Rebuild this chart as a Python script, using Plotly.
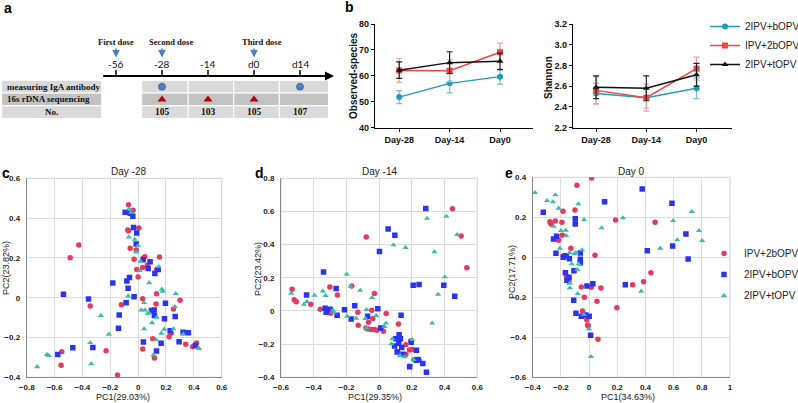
import plotly.graph_objects as go

W, H = 798, 403
def fx(p):
    return p / W
def fy(p):
    return 1 - p / H

# ---------------- panel a data ----------------
timepoints = ["-56", "-28", "-14", "d0", "d14"]
dose_labels = ["First dose", "Second dose", "Third dose"]
dose_timepoints = ["-56", "-28", "d0"]
table_rows = ["measuring IgA antibody", "16s rDNA sequencing", "No."]
iga_timepoints = ["-28", "d14"]
seq_timepoints = ["-28", "-14", "d0"]
sample_timepoints = ["-28", "-14", "d0", "d14"]
sample_counts = [105, 103, 105, 107]

# ---------------- panel b data ----------------
days = ["Day-28", "Day-14", "Day0"]
b_groups = ["2IPV+bOPV", "IPV+2bOPV", "2IPV+tOPV"]
obs_bopv = [51.8, 57.1, 59.7]
obs_bopv_err = [2.5, 3.7, 2.9]
obs_ipv2b = [62.1, 62.0, 69.1]
obs_ipv2b_err = [4.5, 4.2, 3.5]
obs_topv = [62.2, 65.1, 65.6]
obs_topv_err = [3.2, 4.2, 3.2]
sha_bopv = [2.53, 2.49, 2.58]
sha_bopv_err = [0.10, 0.10, 0.10]
sha_ipv2b = [2.56, 2.49, 2.77]
sha_ipv2b_err = [0.13, 0.13, 0.11]
sha_topv = [2.59, 2.58, 2.71]
sha_topv_err = [0.11, 0.12, 0.11]

# ---------------- PCoA data ----------------
c_ipv2b_x = [-0.069,-0.036,-0.074,-0.069,0.005,-0.057,-0.014,0.048,-0.029,0.038,-0.01,0.033,0.067,0.153,0,0.132,-0.426,-0.488,-0.344,-0.12,0.033,0.132,0.129,0.301,0.254,0.105,0.117,0.033,0.222,0.237,0.342,0.392,0.419,-0.23,-0.548,-0.553,-0.148]
c_ipv2b_y = [0.467,0.44,0.34,0.337,0.35,0.248,0.24,0.206,0.193,0.2,0.142,0.152,0.164,0.204,0.104,0.14,0.265,0.201,-0.042,-0.035,-0.005,0.02,-0.032,-0.013,-0.057,-0.206,-0.303,-0.258,-0.196,-0.179,-0.234,-0.246,-0.228,-0.266,-0.271,-0.34,-0.389]
c_bopv_x = [-0.093,-0.057,-0.038,-0.033,-0.01,-0.014,0.036,0.086,0.072,0.144,-0.062,-0.081,-0.182,-0.072,-0.029,-0.086,-0.136,-0.141,-0.536,-0.356,0.12,0.196,0.115,0.096,0.117,0.189,0.266,0.23,0.165,0.038,0.132,0.294,0.323,0.361,0.411,-0.325,-0.469,-0.577]
c_bopv_y = [0.429,0.424,0.409,0.353,0.325,0.27,0.191,0.181,0.147,0.142,0.102,0.084,0.074,0.047,0.005,-0.025,-0.087,-0.154,0.017,-0.007,0.122,-0.028,-0.062,-0.064,-0.089,-0.106,-0.094,-0.166,-0.229,-0.223,-0.268,-0.221,-0.174,-0.176,-0.24,-0.25,-0.251,-0.285]
c_topv_x = [-0.065,-0.05,-0.067,-0.024,-0.002,-0.014,0.017,0.012,0.079,0.148,0.17,0.177,0.27,-0.072,0.043,0.022,0.05,0.069,0.079,0.1,0.134,0.263,0.043,0.187,0.167,0.254,0.323,0.438,0.433,0.127,0.11,-0.268,-0.211,-0.344,-0.337,-0.655,-0.641,-0.725]
c_topv_y = [0.446,0.429,0.305,0.293,0.26,0.229,0.183,0.136,0.075,0.156,0.042,0.032,0.02,0.008,-0.025,-0.062,-0.062,-0.079,-0.077,-0.126,-0.099,-0.045,-0.157,-0.159,-0.179,-0.157,-0.184,-0.256,-0.253,-0.211,-0.288,-0.09,-0.184,-0.226,-0.332,-0.286,-0.291,-0.347]

d_ipv2b_x = [0.448,0.501,0.536,-0.079,-0.167,-0.029,-0.255,-0.301,-0.532,-0.519,-0.507,-0.418,-0.36,-0.297,-0.13,-0.128,-0.045,-0.039,-0.065,-0.081,-0.067,-0.047,-0.029,-0.014,0.026,0.043,0.118,0.163,0.163,0.193,0.185,0.202,0.112,0.185,0.244,0.214]
d_ipv2b_y = [0.616,0.452,0.261,0.446,0.151,0.106,0.096,0.145,0.131,0.068,0.056,0.04,0.01,-0.014,-0.008,-0.086,0.004,-0.046,-0.068,-0.102,-0.108,-0.112,-0.112,-0.116,-0.122,-0.016,-0.078,-0.203,-0.263,-0.181,-0.235,-0.233,-0.245,-0.333,-0.297,-0.293]
d_bopv_x = [0.285,0.055,0.096,0.002,-0.34,0.208,0.244,0.395,0.462,-0.444,-0.263,-0.33,-0.299,-0.324,-0.257,-0.212,-0.149,-0.171,-0.008,-0.071,0.01,0.134,0.122,0.13,0.102,0.094,0.12,0.138,0.11,0.145,0.196,0.228,0.228,0.238,0.267,0.289,0.187]
d_bopv_y = [0.618,0.494,0.456,0.359,0.235,0.155,0.159,0.155,0.088,0.096,0.135,0.016,0.01,-0.008,-0.026,0.008,0.032,-0.048,0.014,-0.032,-0.102,-0.026,-0.143,-0.167,-0.167,-0.211,-0.195,-0.221,-0.247,-0.261,-0.189,-0.237,-0.297,-0.293,-0.317,-0.369,-0.337]
d_topv_x = [0.293,0.411,0.477,0.088,0.161,0.338,0.401,0.36,0.324,-0.198,-0.175,-0.116,-0.344,-0.328,-0.395,-0.442,-0.46,-0.538,-0.283,-0.275,-0.196,-0.141,-0.077,-0.084,-0.043,-0.018,0.041,0.033,0.081,0.075,0.128,0.155,0.202,0.21,-0.077]
d_topv_y = [0.558,0.57,0.46,0.398,0.382,0.357,0.205,0.1,-0.074,0.221,0.149,0.124,0.12,0.092,0.094,0.056,0.04,0.106,0.004,-0.008,-0.032,-0.044,0.008,-0.046,0.08,-0.028,-0.074,-0.094,-0.169,-0.199,-0.269,-0.277,-0.173,-0.293,-0.102]

e_ipv2b_x = [0.018,-0.086,-0.1,-0.185,-0.278,-0.27,-0.24,-0.192,-0.19,-0.216,-0.129,-0.183,-0.16,-0.143,0.042,0.188,0.469,0.439,0.387,0.309,0.084,-0.055,0.016,-0.034,0.056,0.197,-0.046,-0.017,-0.01,-0.006,0.063]
e_ipv2b_y = [0.397,0.36,0.237,0.23,0.178,0.167,0.182,0.175,0.11,0.085,0.045,0.008,-0.095,-0.12,0.01,0.187,0.175,-0.077,-0.122,-0.137,-0.153,-0.148,-0.15,-0.2,-0.22,-0.252,-0.268,-0.312,-0.338,-0.343,-0.41]
e_bopv_x = [-0.325,0.377,0.11,0.588,-0.098,-0.098,-0.23,-0.252,-0.235,-0.183,-0.162,-0.14,-0.062,-0.062,-0.062,0.413,0.593,0.687,0.703,-0.107,-0.168,-0.142,-0.157,0.027,-0.015,0.257,-0.109,-0.093,-0.055,-0.024,0.001,0.011]
e_bopv_y = [0.225,0.342,0.278,0.27,0.193,0.167,0.105,0.092,0.02,0,0.008,-0.007,0.022,-0.01,-0.027,0.033,0.057,0.117,-0.008,-0.067,-0.077,-0.1,-0.115,-0.132,-0.143,-0.137,-0.215,-0.28,-0.295,-0.288,-0.295,-0.39]
e_topv_x = [-0.384,-0.299,-0.256,-0.239,-0.216,-0.076,-0.036,0.24,0.597,0.729,0.781,0.802,0.626,0.505,-0.2,-0.252,-0.166,-0.163,-0.207,-0.138,-0.093,-0.049,-0.074,-0.123,-0.083,-0.138,-0.136,-0.081,0.089,0.37,-0.036,0,0.013,-0.105]
e_topv_y = [0.323,0.283,0.277,0.312,0.245,0.267,0.188,0.197,0.183,0.228,0.133,0.083,0.087,0.045,0.133,0.155,0.135,0.108,0.045,0.023,0.023,0.037,-0.033,-0.033,-0.062,-0.13,-0.153,-0.182,0.147,-0.17,-0.287,-0.358,-0.497,0.017]

pc_groups = ["IPV+2bOPV", "2IPV+bOPV", "2IPV+tOPV"]
pc_titles = ["Day -28", "Day -14", "Day 0"]
pc1_labels = ["PC1(29.03%)", "PC1(29.35%)", "PC1(34.63%)"]
pc2_labels = ["PC2(23.82%)", "PC2(23.42%)", "PC2(17.71%)"]

# ---------------- styles ----------------
SANS = "Liberation Sans, Arial, sans-serif"
SERIF = "Liberation Serif, DejaVu Serif, serif"
TEAL_B, RED_B, BLACK_B = "#1f9db5", "#f04545", "#111111"
RED_P, BLUE_P, TEAL_P = "#e63a5c", "#2a33f2", "#3dbcad"

fig = go.Figure()

# ================= panel a =================
idx = {t: i for i, t in enumerate(timepoints)}
ROW_PX = 12.75
def ay6(p):  # pixel row -> y6 units
    return (p - 86.7) / ROW_PX
def ax6(p):
    return (p - 116) / 46.0

fig.add_trace(go.Scatter(
    x=[idx[t] for t in iga_timepoints], y=[0] * len(iga_timepoints),
    xaxis="x6", yaxis="y6", mode="markers", showlegend=False, hoverinfo="skip",
    marker=dict(symbol="circle", size=7, color="#4f81bd", line=dict(color="#385d8a", width=0.8))))
fig.add_trace(go.Scatter(
    x=[idx[t] for t in seq_timepoints], y=[1] * len(seq_timepoints),
    xaxis="x6", yaxis="y6", mode="markers", showlegend=False, hoverinfo="skip",
    marker=dict(symbol="triangle-up", size=8, color="#b00000")))
fig.add_trace(go.Scatter(
    x=[idx[t] for t in sample_timepoints], y=[2] * len(sample_timepoints),
    xaxis="x6", yaxis="y6", mode="text", showlegend=False, hoverinfo="skip",
    text=[str(n) for n in sample_counts],
    textfont=dict(family=SERIF, size=9.5, color="#111", weight="bold")))

shapes = []
annotations = []
row_cols = ["#d9d9d9", "#c3c3c3", "#dadada"]
col_edges = [0.56, 1.57, 2.56, 3.55, 4.62]
for r in range(3):
    shapes.append(dict(type="rect", xref="x6", yref="y6", x0=ax6(1.7), x1=ax6(101.7),
                       y0=r - 0.5, y1=r + 0.5, fillcolor=row_cols[r],
                       line=dict(color="white", width=1), layer="below"))
    for c in range(4):
        shapes.append(dict(type="rect", xref="x6", yref="y6", x0=col_edges[c], x1=col_edges[c + 1],
                           y0=r - 0.5, y1=r + 0.5, fillcolor=row_cols[r],
                           line=dict(color="white", width=1), layer="below"))
for r, lab in enumerate(table_rows):
    if lab == "No.":
        annotations.append(dict(xref="x6", yref="y6", x=(ax6(1.7) + ax6(101.7)) / 2, y=r,
                                text="<b>%s</b>" % lab, showarrow=False, xanchor="center",
                                font=dict(family=SERIF, size=9, color="#111")))
    else:
        annotations.append(dict(xref="x6", yref="y6", x=ax6(5), y=r,
                                text="<b>%s</b>" % lab, showarrow=False, xanchor="left",
                                font=dict(family=SERIF, size=9, color="#111")))
# timeline
annotations.append(dict(xref="x6", yref="y6", axref="x6", ayref="y6",
                        x=ax6(334), y=ay6(76), ax=ax6(101.7), ay=ay6(76), text="",
                        showarrow=True, arrowhead=2, arrowsize=1, arrowwidth=1.8, arrowcolor="#000"))
for t in timepoints:
    i = idx[t]
    shapes.append(dict(type="line", xref="x6", yref="y6", x0=i, x1=i, y0=ay6(76), y1=ay6(70),
                       line=dict(color="#000", width=1.5)))
    annotations.append(dict(xref="x6", yref="y6", x=i, y=ay6(63.5), text=t, showarrow=False,
                            font=dict(family="Lato, Liberation Sans, sans-serif", size=10, color="#111")))
dose_shift = [0, 9, 8]
for lab, t, s in zip(dose_labels, dose_timepoints, dose_shift):
    i = idx[t]
    annotations.append(dict(xref="x6", yref="y6", x=i, y=ay6(41.5), text="<b>%s</b>" % lab,
                            showarrow=False, xshift=s,
                            font=dict(family=SERIF, size=8.5, color="#111")))
    annotations.append(dict(xref="x6", yref="y6", axref="x6", ayref="y6", x=i, y=ay6(57.5),
                            ax=i, ay=ay6(47), text="", showarrow=True, arrowhead=2,
                            arrowsize=1, arrowwidth=1.5, arrowcolor="#4a7ebb"))

# ================= panel b =================
def add_b(y, err, name, color, ecolor, symbol, xa, ya, show):
    fig.add_trace(go.Scatter(
        x=days, y=y, name=name, xaxis=xa, yaxis=ya, mode="lines+markers",
        showlegend=show, legend="legend", legendgroup=name, cliponaxis=False,
        line=dict(color=color, width=1.5),
        marker=dict(symbol=symbol, size=6, color=color),
        error_y=dict(type="data", array=err, color=ecolor, thickness=1.2, width=3)))

add_b(obs_bopv, obs_bopv_err, b_groups[0], TEAL_B, "#6fc3d3", "circle", "x", "y", True)
add_b(obs_ipv2b, obs_ipv2b_err, b_groups[1], RED_B, "#f79a9a", "square", "x", "y", True)
add_b(obs_topv, obs_topv_err, b_groups[2], BLACK_B, "#222", "triangle-up", "x", "y", True)
add_b(sha_bopv, sha_bopv_err, b_groups[0], TEAL_B, "#6fc3d3", "circle", "x2", "y2", False)
add_b(sha_ipv2b, sha_ipv2b_err, b_groups[1], RED_B, "#f79a9a", "square", "x2", "y2", False)
add_b(sha_topv, sha_topv_err, b_groups[2], BLACK_B, "#222", "triangle-up", "x2", "y2", False)

# ================= panels c, d, e =================
pc_data = [
    [(c_ipv2b_x, c_ipv2b_y), (c_bopv_x, c_bopv_y), (c_topv_x, c_topv_y)],
    [(d_ipv2b_x, d_ipv2b_y), (d_bopv_x, d_bopv_y), (d_topv_x, d_topv_y)],
    [(e_ipv2b_x, e_ipv2b_y), (e_bopv_x, e_bopv_y), (e_topv_x, e_topv_y)],
]
pc_styles = [("circle", RED_P, 5.5), ("square", BLUE_P, 5.5), ("triangle-up", TEAL_P, 5.5)]
for p in range(3):
    xa, ya = "x%d" % (p + 3), "y%d" % (p + 3)
    for g in [0, 1, 2]:
        xs, ys = pc_data[p][g]
        sym, col, sz = pc_styles[g]
        fig.add_trace(go.Scatter(
            x=xs, y=ys, name=pc_groups[g], xaxis=xa, yaxis=ya, mode="markers",
            showlegend=(p == 2), legend="legend2", legendgroup="pc%d" % g,
            marker=dict(symbol=sym, size=sz, color=col, line=dict(width=0))))

# ================= layout =================
b_tick = dict(family=SANS, size=9, color="#111", weight="bold")

lay = dict(
    width=W, height=H, margin=dict(l=0, r=0, t=0, b=0, pad=0, autoexpand=False),
    paper_bgcolor="white", plot_bgcolor="white", showlegend=True,
    font=dict(family=SANS, color="#111"),
)
ydom_b = [fy(127.7), fy(24)]
common_b = dict(showline=True, linecolor="#000", linewidth=1.3, ticks="outside", ticklen=3,
                tickwidth=1.2, tickcolor="#000", showgrid=False, zeroline=False, tickfont=b_tick,
                fixedrange=True)
lay["xaxis"] = dict(domain=[fx(375), fx(533.3)], range=[-0.48, 2.66], type="category",
                    anchor="y", **common_b)
lay["yaxis"] = dict(domain=ydom_b, range=[40, 80], dtick=10, anchor="x", **common_b)
lay["xaxis2"] = dict(domain=[fx(573), fx(731.7)], range=[-0.46, 2.7], type="category",
                     anchor="y2", **common_b)
lay["yaxis2"] = dict(domain=ydom_b, range=[2.2, 3.2], dtick=0.2, tickformat=".1f",
                     anchor="x2", **common_b)

pc_tick = dict(family=SANS, size=8, color="#222", weight="bold")
pc_xdom = [[fx(26.7), fx(221.7)], [fx(281), fx(477.3)], [fx(532.7), fx(730)]]
pc_ydom = [[fy(377.3), fy(178.3)], [fy(377.3), fy(178.3)], [fy(377.3), fy(177.3)]]
pc_xr = [[-0.8, 0.6], [-0.6, 0.6], [-0.4, 1.0]]
pc_yr = [[-0.4, 0.6], [-0.4, 0.8], [-0.6, 0.4]]
for p in range(3):
    n = p + 3
    lay["xaxis%d" % n] = dict(domain=pc_xdom[p], range=pc_xr[p], dtick=0.2, anchor="y%d" % n,
                              showline=True, linecolor="#8a8a8a", linewidth=1, ticks="",
                              showgrid=True, gridcolor="#dcdcdc", gridwidth=1, zeroline=False,
                              tickfont=pc_tick, ticklabelstandoff=2, fixedrange=True)
    lay["yaxis%d" % n] = dict(domain=pc_ydom[p], range=pc_yr[p], dtick=0.2, anchor="x%d" % n,
                              showline=True, linecolor="#8a8a8a", linewidth=1, ticks="",
                              showgrid=True, gridcolor="#dcdcdc", gridwidth=1, zeroline=False,
                              tickfont=pc_tick, ticklabelstandoff=4, fixedrange=True)
    shapes.append(dict(type="rect", xref="x%d domain" % n, yref="y%d domain" % n,
                       x0=0, x1=1, y0=0, y1=1, line=dict(color="#d0d0d0", width=1), layer="below"))

lay["xaxis6"] = dict(domain=[0, fx(340)], range=[ax6(0), ax6(340)], visible=False,
                     anchor="y6", fixedrange=True)
lay["yaxis6"] = dict(domain=[fy(125), 1], range=[ay6(125), ay6(0)], visible=False,
                     anchor="x6", fixedrange=True)

# PCoA titles / axis titles
pc_title_x = [128, 379, 631.7]
pc1_x = [123, 375, 628]
pc2_x = [6, 258, 512]
pc2_y = [268, 269, 272]
for p in range(3):
    annotations.append(dict(xref="paper", yref="paper", x=fx(pc_title_x[p]), y=fy(171.5),
                            text=pc_titles[p], showarrow=False,
                            font=dict(family=SANS, size=10, color="#222")))
    annotations.append(dict(xref="paper", yref="paper", x=fx(pc1_x[p]), y=fy(397),
                            text=pc1_labels[p], showarrow=False,
                            font=dict(family=SANS, size=9, color="#222")))
    annotations.append(dict(xref="paper", yref="paper", x=fx(pc2_x[p]), y=fy(pc2_y[p]),
                            text=pc2_labels[p], showarrow=False, textangle=-90,
                            font=dict(family=SANS, size=9, color="#222")))

# panel b axis titles
annotations.append(dict(xref="paper", yref="paper", x=fx(353), y=fy(76), text="Observed-species",
                        showarrow=False, textangle=-90,
                        font=dict(family=SANS, size=10, color="#111", weight="bold")))
annotations.append(dict(xref="paper", yref="paper", x=fx(548), y=fy(78), text="Shannon",
                        showarrow=False, textangle=-90,
                        font=dict(family=SANS, size=10, color="#111", weight="bold")))

# panel letters
for lab, x, y in [("a", 8, 8), ("b", 349, 7), ("c", 6, 173), ("d", 259, 173), ("e", 509, 173)]:
    annotations.append(dict(xref="paper", yref="paper", x=fx(x), y=fy(y), text="<b>%s</b>" % lab,
                            showarrow=False, font=dict(family=SANS, size=14, color="#000")))

for a in annotations:
    a.setdefault("xanchor", "center")
    a.setdefault("yanchor", "middle")

lay["legend"] = dict(x=fx(705), y=fy(12), xanchor="left", yanchor="top",
                     bgcolor="rgba(0,0,0,0)", font=dict(family=SANS, size=10, color="#222"),
                     itemwidth=30, tracegroupgap=0, traceorder="normal")
lay["legend2"] = dict(x=fx(704), y=fy(239), xanchor="left", yanchor="top",
                      bgcolor="rgba(0,0,0,0)", font=dict(family=SANS, size=10, color="#222"),
                      itemwidth=30, tracegroupgap=2, traceorder="grouped")
lay["shapes"] = shapes
lay["annotations"] = annotations
fig.update_layout(**lay)

fig.write_html("out.html", config={"displayModeBar": False},
               post_script="document.body.style.margin='0px';document.body.style.padding='0px';")
